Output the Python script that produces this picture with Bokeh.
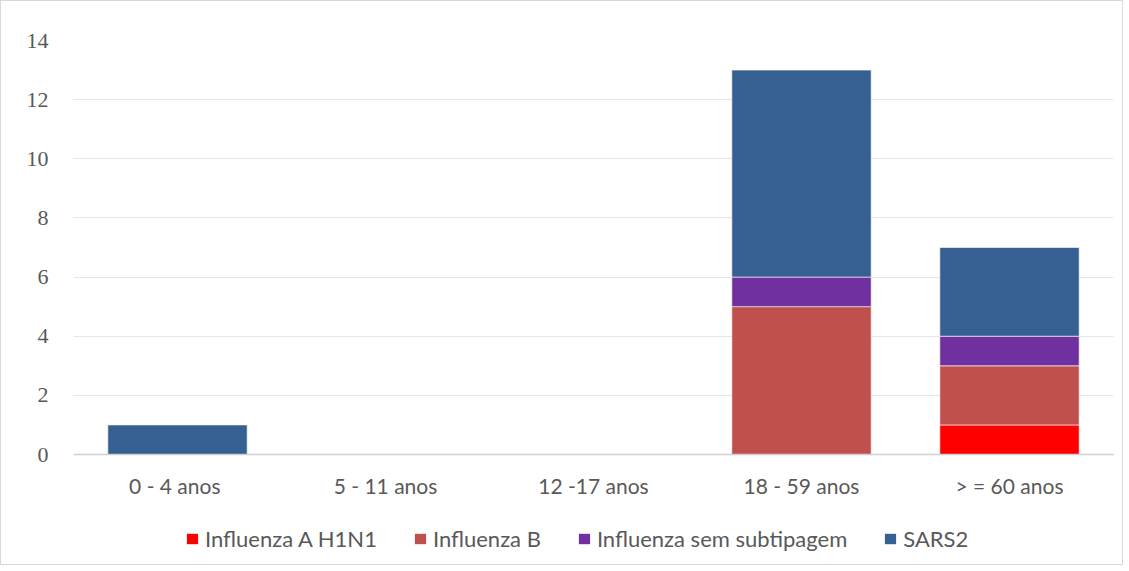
from bokeh.plotting import figure
from bokeh.layouts import column
from bokeh.models import Range1d, FactorRange, SingleIntervalTicker, Legend, LegendItem
from bokeh.embed import file_html
from bokeh.resources import INLINE

categories = ["0 - 4  anos", "5 - 11 anos", "12 -17 anos", "18 - 59 anos", "> = 60 anos"]
series_names = ["Influenza A H1N1", "Influenza B", "Influenza sem subtipagem", "SARS2"]
h1n1 = [0, 0, 0, 0, 1]
flu_b = [0, 0, 0, 5, 2]
flu_sem = [0, 0, 0, 1, 1]
sars2 = [1, 0, 0, 7, 3]
colors = ["#ff0000", "#c0504d", "#7030a0", "#376092"]

data = {"cat": categories, "h1n1": h1n1, "flu_b": flu_b, "flu_sem": flu_sem, "sars2": sars2}
keys = ["h1n1", "flu_b", "flu_sem", "sars2"]

W = 1121
p = figure(x_range=FactorRange(*categories, range_padding=0), y_range=Range1d(0, 14),
           width=W, height=520, output_backend="svg", toolbar_location=None,
           min_border_left=72, min_border_right=9, min_border_top=39, min_border_bottom=67)
p.x_range.factor_padding = 0
p.x_range.group_padding = 0

renderers = p.vbar_stack(keys, x="cat", width=0.67, source=data, color=colors,
                         line_color="white", line_width=0.6)

p.outline_line_color = None
p.xgrid.grid_line_color = None
p.ygrid.grid_line_color = "#e6e6e6"
p.ygrid.grid_line_width = 1
p.yaxis.ticker = SingleIntervalTicker(interval=2)
p.yaxis.axis_line_color = None
p.yaxis.major_tick_line_color = None
p.yaxis.minor_tick_line_color = None
p.yaxis.major_label_text_font = "Liberation Serif"
p.yaxis.major_label_text_font_size = "22px"
p.yaxis.major_label_text_color = "#595959"
p.yaxis.major_label_standoff = 19

p.xaxis.axis_line_color = "#d0d0d0"
p.xaxis.axis_line_width = 1.5
p.xaxis.major_tick_line_color = None
p.xaxis.minor_tick_line_color = None
p.xaxis.major_label_text_font = "Lato"
p.xaxis.major_label_text_font_size = "21px"
p.xaxis.major_label_text_color = "#595959"
p.xaxis.major_label_standoff = 12

# legend strip below the chart: same series with zero-width bars out of view; only the legend shows
lg = figure(width=W, height=43, output_backend="svg", toolbar_location=None,
            x_range=FactorRange(*categories, range_padding=0), y_range=Range1d(-2, -1),
            x_axis_location=None, y_axis_location=None,
            min_border=0, outline_line_color=None)
lg.grid.visible = False
lg_renderers = lg.vbar_stack(keys, x="cat", width=0, source=data, color=colors, line_color=None)

items = [LegendItem(label=n, renderers=[r]) for n, r in zip(series_names, lg_renderers)]
legend = Legend(items=items, orientation="horizontal", location=(112, 12),
                glyph_width=14, glyph_height=13, label_standoff=6, spacing=36,
                padding=0, margin=0, border_line_color=None, background_fill_alpha=0,
                label_text_font="Lato", label_text_font_size="22px",
                label_text_color="#595959")
lg.add_layout(legend, "center")

layout = column(p, lg, spacing=0)
layout.styles = {"border": "1px solid #d9d9d9", "box-sizing": "border-box"}

open("out.html", "w").write(file_html(layout, INLINE))
